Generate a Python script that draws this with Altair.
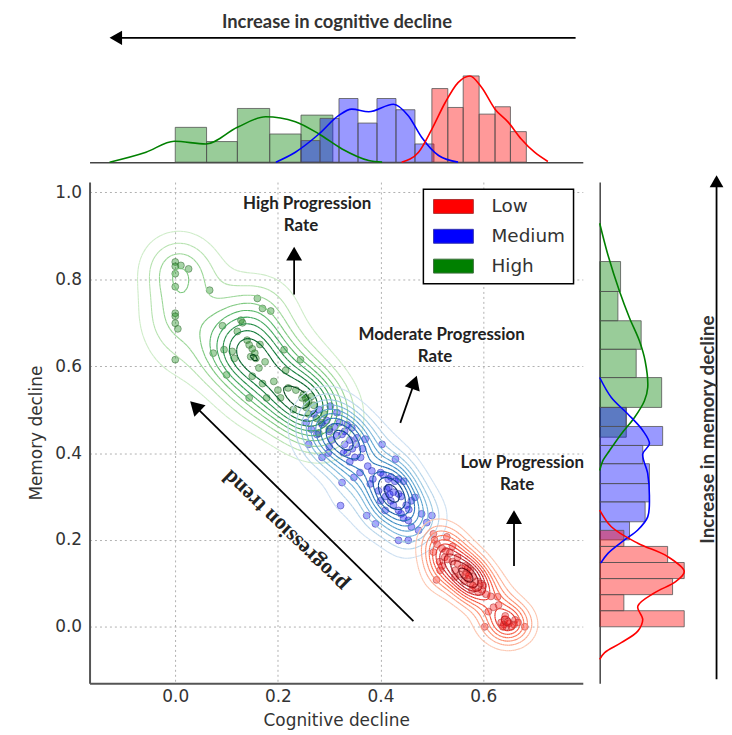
import numpy as np
import pandas as pd
import altair as alt

# ---------------- scatter points ----------------
green_x = [0.000, 0.000, 0.011, 0.026, 0.000, 0.000, 0.000, 0.000, 0.000, 0.005, 0.000,
           0.067, 0.092, 0.074, 0.095, 0.111, 0.115, 0.100,
           0.160, 0.170, 0.128, 0.131, 0.121, 0.144, 0.147, 0.157, 0.163, 0.150, 0.144, 0.140, 0.150, 0.155, 0.165, 0.175, 0.170, 0.178,
           0.186, 0.192, 0.200, 0.212, 0.205, 0.220, 0.235, 0.230, 0.215,
           0.244, 0.247, 0.254, 0.256, 0.250, 0.260, 0.265, 0.255, 0.270, 0.260, 0.275, 0.285, 0.290, 0.300, 0.280]
green_y = [0.840, 0.830, 0.832, 0.824, 0.813, 0.783, 0.722, 0.715, 0.699, 0.686, 0.615,
           0.775, 0.693, 0.630, 0.638, 0.634, 0.618, 0.580,
           0.756, 0.733, 0.706, 0.700, 0.680, 0.649, 0.622, 0.618, 0.596, 0.577, 0.527, 0.660, 0.640, 0.630, 0.650, 0.610, 0.560, 0.527,
           0.727, 0.565, 0.545, 0.638, 0.527, 0.550, 0.545, 0.500, 0.590,
           0.615, 0.527, 0.527, 0.516, 0.535, 0.520, 0.530, 0.505, 0.510, 0.490, 0.480, 0.470, 0.490, 0.455, 0.445]

blue_x = [0.260, 0.276, 0.255, 0.270, 0.265, 0.280,
          0.302, 0.286, 0.315, 0.286, 0.298, 0.300, 0.310, 0.295, 0.305, 0.315, 0.300,
          0.325, 0.344, 0.354, 0.335, 0.325, 0.348, 0.322, 0.330, 0.340, 0.330, 0.345, 0.350, 0.320, 0.335, 0.340, 0.352, 0.328,
          0.370, 0.361, 0.383, 0.380, 0.373, 0.390, 0.365, 0.375, 0.385, 0.360,
          0.403, 0.429, 0.396, 0.416, 0.409, 0.412, 0.420, 0.425, 0.405, 0.410, 0.420, 0.400, 0.415, 0.428, 0.418, 0.400, 0.425,
          0.435, 0.435, 0.435, 0.454, 0.454, 0.440, 0.445, 0.450, 0.440, 0.460, 0.435, 0.445, 0.455, 0.460,
          0.467, 0.500, 0.474, 0.480, 0.490]
blue_y = [0.420, 0.443, 0.470, 0.490, 0.455, 0.500,
          0.508, 0.466, 0.493, 0.390, 0.400, 0.450, 0.460, 0.475, 0.430, 0.440, 0.415,
          0.443, 0.458, 0.435, 0.401, 0.332, 0.344, 0.279, 0.420, 0.430, 0.450, 0.410, 0.390, 0.470, 0.465, 0.380, 0.420, 0.400,
          0.432, 0.390, 0.359, 0.329, 0.256, 0.237, 0.410, 0.370, 0.340, 0.355,
          0.420, 0.386, 0.313, 0.321, 0.268, 0.317, 0.345, 0.310, 0.350, 0.300, 0.290, 0.355, 0.340, 0.335, 0.305, 0.290, 0.280,
          0.306, 0.268, 0.199, 0.245, 0.199, 0.300, 0.335, 0.280, 0.260, 0.290, 0.340, 0.250, 0.270, 0.230,
          0.298, 0.256, 0.222, 0.260, 0.240]

red_x = [0.503, 0.503, 0.516, 0.509, 0.529, 0.510, 0.520, 0.525, 0.515, 0.527, 0.505, 0.520, 0.530,
         0.535, 0.540, 0.545, 0.550, 0.555, 0.540, 0.550, 0.545, 0.558,
         0.565, 0.570, 0.568, 0.575, 0.580, 0.585, 0.570, 0.575, 0.565, 0.580, 0.588, 0.572, 0.563, 0.578, 0.590,
         0.597, 0.603, 0.610, 0.600, 0.605, 0.615, 0.595, 0.620,
         0.628, 0.642, 0.640, 0.645, 0.635, 0.650, 0.630, 0.638, 0.648, 0.643,
         0.681, 0.655, 0.662, 0.660, 0.668]
red_y = [0.214, 0.172, 0.130, 0.108, 0.207, 0.190, 0.180, 0.160, 0.150, 0.175, 0.200, 0.140, 0.155,
         0.170, 0.150, 0.130, 0.145, 0.120, 0.185, 0.160, 0.115, 0.135,
         0.120, 0.110, 0.125, 0.100, 0.115, 0.090, 0.135, 0.130, 0.140, 0.095, 0.105, 0.118, 0.105, 0.085, 0.080,
         0.085, 0.000, 0.035, 0.095, 0.075, 0.070, 0.100, 0.045,
         0.069, 0.016, 0.005, 0.000, 0.010, 0.008, 0.050, 0.000, 0.012, 0.025,
         0.000, 0.000, 0.016, 0.005, 0.010]

# ---------------- top marginal histograms (bin edges, bar heights) ----------------
top_green_edges = [0.000, 0.061, 0.121, 0.184, 0.245, 0.307]
top_green_h = [3.50, 2.07, 5.40, 2.83, 4.73]
top_blue_edges = [0.245, 0.282, 0.319, 0.356, 0.393, 0.430, 0.467, 0.504]
top_blue_h = [2.17, 4.40, 6.40, 3.93, 6.40, 5.27, 1.83]
top_red_edges = [0.500, 0.531, 0.561, 0.592, 0.623, 0.653, 0.684]
top_red_h = [7.40, 5.50, 8.67, 4.83, 5.57, 3.07]

# top marginal density curves
top_green_kx = [-0.128, -0.057, -0.002, 0.060, 0.121, 0.176, 0.234, 0.280, 0.325, 0.377, 0.403]
top_green_ky = [0.00, 1.00, 2.10, 1.83, 3.50, 4.57, 4.07, 2.83, 1.33, 0.17, 0.00]
top_blue_kx = [0.196, 0.234, 0.280, 0.318, 0.344, 0.377, 0.425, 0.454, 0.480, 0.513, 0.551]
top_blue_ky = [0.00, 1.00, 2.83, 4.67, 5.33, 5.07, 5.83, 4.67, 2.50, 0.67, 0.00]
top_red_kx = [0.441, 0.474, 0.500, 0.526, 0.551, 0.574, 0.597, 0.623, 0.649, 0.674, 0.700, 0.726]
top_red_ky = [0.00, 1.00, 3.33, 6.00, 8.00, 8.67, 7.50, 5.33, 4.00, 2.33, 1.00, 0.07]

# ---------------- right marginal histograms ----------------
right_green_edges = [0.4365, 0.5051, 0.5738, 0.6389, 0.7046, 0.772, 0.841]
right_green_len = [2.67, 6.23, 3.67, 4.17, 1.83, 2.10]
right_blue_edges = [0.200, 0.2418, 0.2876, 0.3297, 0.3755, 0.4175, 0.4612, 0.505]
right_blue_len = [3.00, 4.57, 5.00, 5.00, 4.33, 6.33, 2.67]
right_red_edges = [0.000, 0.037, 0.074, 0.111, 0.148, 0.185, 0.222]
right_red_len = [8.50, 2.43, 7.33, 8.50, 6.83, 2.43]

# right marginal density curves
right_green_ky = [0.929, 0.856, 0.772, 0.711, 0.658, 0.612, 0.551, 0.5205, 0.482, 0.444, 0.406, 0.383, 0.360]
right_green_kl = [0.00, 0.83, 2.00, 3.00, 4.00, 4.57, 4.83, 4.50, 3.50, 2.17, 1.00, 0.33, 0.00]
right_blue_ky = [0.574, 0.528, 0.490, 0.452, 0.4213, 0.398, 0.3526, 0.299, 0.253, 0.2228, 0.200, 0.169, 0.1466]
right_blue_kl = [0.00, 1.17, 2.83, 4.33, 5.00, 4.33, 4.83, 5.00, 4.83, 3.83, 2.50, 0.83, 0.10]
right_red_ky = [0.2686, 0.2304, 0.1924, 0.1617, 0.1273, 0.1044, 0.0779, 0.0472, 0.0167, -0.010, -0.0366, -0.0595, -0.075]
right_red_kl = [0.00, 1.17, 3.83, 6.83, 8.50, 7.67, 5.50, 3.83, 4.33, 3.83, 2.17, 0.50, 0.00]

GROUPS = ["Low", "Medium", "High"]
GROUP_COLORS = ["#ff0000", "#0000ff", "#008000"]
GROUP_EDGES = ["#b03434", "#3434b0", "#3a6f3a"]

GREENS = ["#f7fcf5", "#e5f5e0", "#c7e9c0", "#a1d99b", "#74c476", "#41ab5d", "#238b45", "#006d2c", "#00441b"]
BLUES = ["#f7fbff", "#deebf7", "#c6dbef", "#9ecae1", "#6baed6", "#4292c6", "#2171b5", "#08519c", "#08306b"]
REDS = ["#fff5f0", "#fee0d2", "#fcbba1", "#fc9272", "#fb6a4a", "#ef3b2a", "#cb181d", "#a50f15", "#67000d"]

X_DOMAIN = [-0.167, 0.794]
Y_DOMAIN = [-0.13, 1.024]
MAIN_W, MAIN_H = 496, 504
TOP_H = 152
TOP_DOMAIN = [0, 15.2]
RIGHT_W = 120
RIGHT_DOMAIN = [0, 12]

# ---------------- derived tables ----------------
pts = pd.concat([
    pd.DataFrame({"x": green_x, "y": green_y, "group": "High"}),
    pd.DataFrame({"x": blue_x, "y": blue_y, "group": "Medium"}),
    pd.DataFrame({"x": red_x, "y": red_y, "group": "Low"}),
], ignore_index=True)


def kde_grid(xs, ys, n=90, cut=3.0):
    xs = np.asarray(xs, float)
    ys = np.asarray(ys, float)
    m = len(xs)
    bx = xs.std(ddof=1) * m ** (-1 / 6)
    by = ys.std(ddof=1) * m ** (-1 / 6)
    gx = np.linspace(xs.min() - cut * bx, xs.max() + cut * bx, n)
    gy = np.linspace(ys.min() - cut * by, ys.max() + cut * by, n)
    kx = np.exp(-0.5 * ((gx[None, :] - xs[:, None]) / bx) ** 2)
    ky = np.exp(-0.5 * ((gy[None, :] - ys[:, None]) / by) ** 2)
    z = ky.T @ kx / (2 * np.pi * bx * by * m)
    return gx, gy, z


EDGE_PAIRS = {1: [(3, 0)], 2: [(0, 1)], 3: [(3, 1)], 4: [(1, 2)], 5: [(3, 0), (1, 2)],
              6: [(0, 2)], 7: [(3, 2)], 8: [(2, 3)], 9: [(0, 2)], 10: [(0, 1), (2, 3)],
              11: [(1, 2)], 12: [(1, 3)], 13: [(0, 1)], 14: [(3, 0)]}


def contour_segments(gx, gy, z, lev):
    above = (z > lev).astype(int)
    idx = above[:-1, :-1] + 2 * above[:-1, 1:] + 4 * above[1:, 1:] + 8 * above[1:, :-1]
    out = []
    ii, jj = np.nonzero((idx > 0) & (idx < 15))
    for i, j in zip(ii, jj):
        za, zb, zc, zd = z[i, j], z[i, j + 1], z[i + 1, j + 1], z[i + 1, j]
        x0, x1, y0, y1 = gx[j], gx[j + 1], gy[i], gy[i + 1]

        def pt(e):
            if e == 0:
                t = (lev - za) / (zb - za)
                return x0 + t * (x1 - x0), y0
            if e == 1:
                t = (lev - zb) / (zc - zb)
                return x1, y0 + t * (y1 - y0)
            if e == 2:
                t = (lev - zd) / (zc - zd)
                return x0 + t * (x1 - x0), y1
            t = (lev - za) / (zd - za)
            return x0, y0 + t * (y1 - y0)

        for e1, e2 in EDGE_PAIRS[int(idx[i, j])]:
            p, q = pt(e1), pt(e2)
            out.append((p[0], p[1], q[0], q[1]))
    return out


def cmap(anchors, t):
    pos = t * (len(anchors) - 1)
    k = min(int(pos), len(anchors) - 2)
    f = pos - k
    c0 = np.array([int(anchors[k][i:i + 2], 16) for i in (1, 3, 5)])
    c1 = np.array([int(anchors[k + 1][i:i + 2], 16) for i in (1, 3, 5)])
    c = np.round(c0 + f * (c1 - c0)).astype(int)
    return "#%02x%02x%02x" % tuple(c)


cont_rows = []
N_LEV = 10
for xs, ys, anchors in [(green_x, green_y, GREENS), (blue_x, blue_y, BLUES), (red_x, red_y, REDS)]:
    gx, gy, z = kde_grid(xs, ys)
    zmax = z.max()
    for k in range(1, N_LEV + 1):
        lev = zmax * k / (N_LEV + 0.5)
        col = cmap(anchors, 0.22 + 0.78 * (k - 1) / (N_LEV - 1))
        for s in contour_segments(gx, gy, z, lev):
            cont_rows.append((*s, col))
cont = pd.DataFrame(cont_rows, columns=["x", "y", "x2", "y2", "col"]).round(4)


def bars(edges, vals, group):
    return pd.DataFrame({"lo": edges[:-1], "hi": edges[1:], "v": vals, "base": 0.0, "group": group})


top_bars = pd.concat([bars(top_green_edges, top_green_h, "High"),
                      bars(top_blue_edges, top_blue_h, "Medium"),
                      bars(top_red_edges, top_red_h, "Low")], ignore_index=True)
top_kde = pd.concat([pd.DataFrame({"x": top_green_kx, "y": top_green_ky, "group": "High"}),
                     pd.DataFrame({"x": top_blue_kx, "y": top_blue_ky, "group": "Medium"}),
                     pd.DataFrame({"x": top_red_kx, "y": top_red_ky, "group": "Low"})], ignore_index=True)
right_bars = pd.concat([bars(right_green_edges, right_green_len, "High"),
                        bars(right_blue_edges, right_blue_len, "Medium"),
                        bars(right_red_edges, right_red_len, "Low")], ignore_index=True)
right_kde = pd.concat([pd.DataFrame({"y": right_green_ky, "len": right_green_kl, "group": "High"}),
                       pd.DataFrame({"y": right_blue_ky, "len": right_blue_kl, "group": "Medium"}),
                       pd.DataFrame({"y": right_red_ky, "len": right_red_kl, "group": "Low"})], ignore_index=True)

# ---------------- annotations ----------------
ann_labels = ["High Progression", "Rate", "Moderate Progression", "Rate", "Low Progression", "Rate"]
ann_x = [0.257, 0.245, 0.519, 0.506, 0.676, 0.666]
ann_y = [0.974, 0.923, 0.672, 0.6215, 0.377, 0.3275]
# arrows: tail x, tail y, tip x, tip y
arrow_tail_x = [0.2316, 0.4384, 0.660, 0.464]
arrow_tail_y = [0.765, 0.4695, 0.140, 0.0128]
arrow_tip_x = [0.2316, 0.4705, 0.660, 0.029]
arrow_tip_y = [0.875, 0.578, 0.2686, 0.519]

HEAD_SIZE = 256
head_h = np.sqrt(3) / 2 * np.sqrt(HEAD_SIZE) / 2
ppx = MAIN_W / (X_DOMAIN[1] - X_DOMAIN[0])
ppy = MAIN_H / (Y_DOMAIN[1] - Y_DOMAIN[0])
shaft_rows, head_rows = [], []
for tx, ty, hx, hy in zip(arrow_tail_x, arrow_tail_y, arrow_tip_x, arrow_tip_y):
    dxp, dyp = (hx - tx) * ppx, -(hy - ty) * ppy
    L = np.hypot(dxp, dyp)
    ux, uy = dxp / L, dyp / L
    cx, cy = hx - head_h * ux / ppx, hy + head_h * uy / ppy
    ang = float(np.degrees(np.arctan2(ux, -uy)) % 360)
    shaft_rows.append((tx, ty, cx, cy))
    head_rows.append((cx, cy, ang))
shafts = pd.DataFrame(shaft_rows, columns=["x", "y", "x2", "y2"])
heads = pd.DataFrame(head_rows, columns=["x", "y", "ang"])

# ---------------- scales & axes ----------------
xsc = alt.Scale(domain=X_DOMAIN, nice=False, zero=False)
ysc = alt.Scale(domain=Y_DOMAIN, nice=False, zero=False)
gsc = alt.Scale(domain=GROUPS, range=GROUP_COLORS)
esc = alt.Scale(domain=GROUPS, range=GROUP_EDGES)

xax = alt.Axis(title="Cognitive decline", values=[0, 0.2, 0.4, 0.6], format=".1f", grid=True,
               labelPadding=5, titlePadding=8)
yax = alt.Axis(title="Memory decline", values=[0, 0.2, 0.4, 0.6, 0.8, 1.0], format=".1f", grid=True,
               labelPadding=8, titlePadding=9)


def MX(f="x"):
    return alt.X(f"{f}:Q", scale=xsc, axis=xax)


def MY(f="y"):
    return alt.Y(f"{f}:Q", scale=ysc, axis=yax)


legend = alt.Legend(orient="none", legendX=335.7, legendY=7.3, title=None,
                    symbolType="M-2.857,-1H2.857V1H-2.857Z", symbolSize=196,
                    symbolStrokeColor="black", symbolStrokeWidth=1, symbolOpacity=1,
                    symbolOffset=13, labelOffset=29, rowPadding=11, padding=8,
                    strokeColor="black", fillColor="white",
                    labelFont="DejaVu Sans", labelFontSize=18.5, labelColor="#333333")

scatter = alt.Chart(pts).mark_point(filled=True, shape="circle", size=48, fillOpacity=0.35,
                                    strokeOpacity=0.55, strokeWidth=1).encode(
    x=MX(), y=MY(),
    color=alt.Color("group:N", scale=gsc, legend=legend),
    stroke=alt.Stroke("group:N", scale=esc, legend=None),
)
contours = alt.Chart(cont).mark_rule(strokeWidth=1.1, clip=True).encode(
    x=MX(), y=MY(), x2="x2:Q", y2="y2:Q", color=alt.Color("col:N", scale=None))
shaft_layer = alt.Chart(shafts).mark_rule(color="black", strokeWidth=1.8).encode(
    x=MX(), y=MY(), x2="x2:Q", y2="y2:Q")
head_layer = alt.Chart(heads).mark_point(shape="triangle-up", filled=True, size=HEAD_SIZE,
                                         color="black", opacity=1).encode(
    x=MX(), y=MY(), angle=alt.Angle("ang:Q", scale=None))
ann_df = pd.DataFrame({"x": ann_x, "y": ann_y, "label": ann_labels})
ann_layer = alt.Chart(ann_df).mark_text(font="Lato", fontWeight="bold", fontSize=17, color="#222222").encode(
    x=MX(), y=MY(), text="label:N")
trend_df = pd.DataFrame({"x": [0.214], "y": [0.2205], "label": ["progression trend"]})
trend_layer = alt.Chart(trend_df).mark_text(font="Liberation Serif", fontWeight="bold", fontSize=22,
                                            angle=224, color="#222222").encode(
    x=MX(), y=MY(), text="label:N")

main = alt.layer(scatter, contours, shaft_layer, head_layer, ann_layer, trend_layer).properties(
    width=MAIN_W, height=MAIN_H)

# ---------------- top marginal ----------------
tysc = alt.Scale(domain=TOP_DOMAIN, nice=False, zero=False)
top_xax = alt.Axis(labels=False, ticks=False, grid=False, title=None, domainColor="#444444", domainWidth=1.5)

t_bars = alt.Chart(top_bars).mark_rect(stroke="#555555", strokeWidth=1, strokeOpacity=0.8, fillOpacity=0.4).encode(
    x=alt.X("lo:Q", scale=xsc, axis=top_xax), x2="hi:Q",
    y=alt.Y("v:Q", scale=tysc, axis=None), y2="base:Q",
    color=alt.Color("group:N", scale=gsc, legend=None))
t_kde = alt.Chart(top_kde).mark_line(strokeWidth=1.6, interpolate="monotone").encode(
    x=alt.X("x:Q", scale=xsc, axis=top_xax), y=alt.Y("y:Q", scale=tysc, axis=None),
    color=alt.Color("group:N", scale=gsc, legend=None))

tpx = MAIN_W / (X_DOMAIN[1] - X_DOMAIN[0])
TOP_HEAD = 210
top_head_h = np.sqrt(3) / 2 * np.sqrt(TOP_HEAD) / 2
top_tip_x, top_tail_x, top_arrow_y = -0.128, 0.78, 12.5
top_arrow = pd.DataFrame({"x": [top_tail_x], "x2": [top_tip_x + top_head_h / tpx], "y": [top_arrow_y]})
t_shaft = alt.Chart(top_arrow).mark_rule(color="black", strokeWidth=1.8).encode(
    x=alt.X("x:Q", scale=xsc, axis=top_xax), x2="x2:Q", y=alt.Y("y:Q", scale=tysc, axis=None))
t_head = alt.Chart(top_arrow).mark_point(shape="triangle-left", filled=True, size=TOP_HEAD,
                                         color="black", opacity=1).encode(
    x=alt.X("x2:Q", scale=xsc, axis=top_xax), y=alt.Y("y:Q", scale=tysc, axis=None))
top_title = pd.DataFrame({"x": [0.315], "y": [14.1], "label": ["Increase in cognitive decline"]})
t_text = alt.Chart(top_title).mark_text(font="Lato", fontWeight="bold", fontSize=18.5, color="#333333").encode(
    x=alt.X("x:Q", scale=xsc, axis=top_xax), y=alt.Y("y:Q", scale=tysc, axis=None), text="label:N")

top = alt.layer(t_bars, t_kde, t_shaft, t_head, t_text).properties(width=MAIN_W, height=TOP_H)

# ---------------- right marginal ----------------
rxsc = alt.Scale(domain=RIGHT_DOMAIN, nice=False, zero=False)
right_yax = alt.Axis(labels=False, ticks=False, grid=False, title=None, domainColor="#444444", domainWidth=1.5)

r_bars = alt.Chart(right_bars).mark_rect(stroke="#555555", strokeWidth=1, strokeOpacity=0.8, fillOpacity=0.4).encode(
    y=alt.Y("lo:Q", scale=ysc, axis=right_yax), y2="hi:Q",
    x=alt.X("v:Q", scale=rxsc, axis=None), x2="base:Q",
    color=alt.Color("group:N", scale=gsc, legend=None))
r_kde = alt.Chart(right_kde).mark_line(strokeWidth=1.6, interpolate="catmull-rom").encode(
    y=alt.Y("y:Q", scale=ysc, axis=right_yax), x=alt.X("len:Q", scale=rxsc, axis=None),
    order=alt.Order("y:Q"), color=alt.Color("group:N", scale=gsc, legend=None))

RIGHT_HEAD = 190
r_head_h = np.sqrt(3) / 2 * np.sqrt(RIGHT_HEAD) / 2
right_tip_y, right_tail_y, right_arrow_x = 1.0396, -0.1207, 11.75
right_arrow = pd.DataFrame({"len": [right_arrow_x], "y": [right_tail_y], "y2": [right_tip_y - r_head_h / ppy]})
r_shaft = alt.Chart(right_arrow).mark_rule(color="black", strokeWidth=1.8).encode(
    x=alt.X("len:Q", scale=rxsc, axis=None), y=alt.Y("y:Q", scale=ysc, axis=right_yax), y2="y2:Q")
r_head = alt.Chart(right_arrow).mark_point(shape="triangle-up", filled=True, size=RIGHT_HEAD,
                                           color="black", opacity=1).encode(
    x=alt.X("len:Q", scale=rxsc, axis=None), y=alt.Y("y2:Q", scale=ysc, axis=right_yax))
right_title = pd.DataFrame({"len": [10.9], "y": [0.454], "label": ["Increase in memory decline"]})
r_text = alt.Chart(right_title).mark_text(font="Lato", fontWeight="bold", fontSize=19, angle=270,
                                          color="#333333").encode(
    x=alt.X("len:Q", scale=rxsc, axis=None), y=alt.Y("y:Q", scale=ysc, axis=right_yax), text="label:N")

right = alt.layer(r_bars, r_kde, r_shaft, r_head, r_text).properties(width=RIGHT_W, height=MAIN_H)

blank = alt.Chart(pd.DataFrame({"v": [0]})).mark_point(size=0, opacity=0).encode(
    x=alt.value(0), y=alt.value(20)).properties(width=1, height=1)

chart = alt.ConcatChart(
    concat=[top, blank, main, right], columns=2,
    spacing={"row": 20, "column": 17}, bounds="flush", align="each",
).resolve_scale(color="independent", stroke="independent").properties(
    padding={"left": 19, "top": 1, "right": 0, "bottom": 0}
).configure_view(stroke=None).configure_axis(
    labelFont="DejaVu Sans", labelFontSize=17, labelColor="#333333",
    titleFont="DejaVu Sans", titleFontSize=17, titleFontWeight="normal", titleColor="#333333",
    domainColor="#555555", domainWidth=2, ticks=False,
    gridColor="#b0b0b0", gridDash=[2, 3], gridWidth=1,
).configure_legend(strokeWidth=1.5)

chart.save("out.html", embed_options={"renderer": "svg", "actions": False})
